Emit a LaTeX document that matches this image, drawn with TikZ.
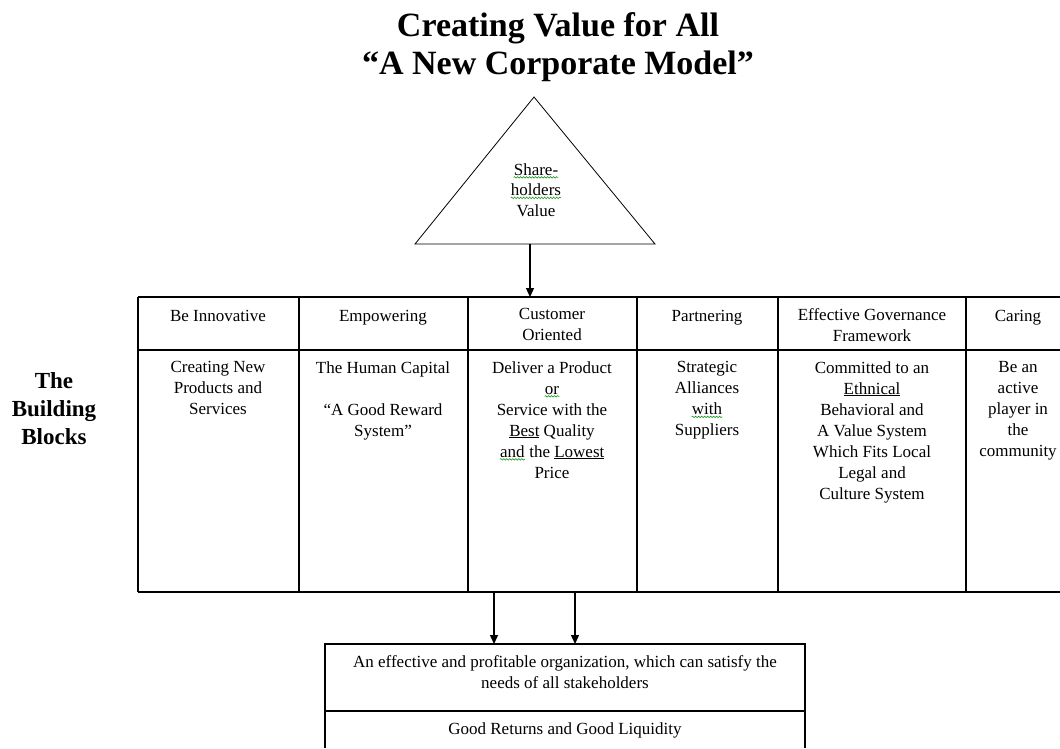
\documentclass[tikz,border=0pt]{standalone}
\usepackage{fontspec}
\setmainfont{Liberation Serif}
\usetikzlibrary{arrows.meta,decorations.pathmorphing}

% green wavy mark under a word
\newcommand{\spellmark}[1]{\tikz[baseline=(w.base)]{\node[inner sep=0pt] (w) {#1};
    \draw[green!55!black, line width=0.5pt, decorate, decoration={snake,amplitude=0.8pt,segment length=3pt}]
        ([yshift=-2pt]w.south west) -- ([yshift=-2pt]w.south east);}}

\begin{document}
\begin{tikzpicture}[x=1pt,y=-1pt,
    celltext/.style={anchor=north,align=center,inner sep=0pt,font=\fontsize{17}{21}\selectfont},
    grid/.style={line width=1.5pt},
    heavy/.style={line width=2.5pt},
    flow/.style={line width=1.3pt,-{Triangle[length=9pt,width=8pt]}}]

            \useasboundingbox (0,0) rectangle (1060,748);

            % Title
            \node[anchor=north,align=center,inner sep=0pt,font=\bfseries\fontsize{34}{38}\selectfont]
                (title) at (558,12) {Creating Value for All\\“A New Corporate Model”};

            % Triangle with the shareholders value
            \coordinate (apex) at (534,97);
            \coordinate (baseL) at (415,244);
            \coordinate (baseR) at (655,244);
            \draw[line width=0.8pt] (apex) -- (baseL) -- (baseR) -- cycle;
            \node[celltext,font=\fontsize{17}{20.5}\selectfont] (share) at (536,163)
                {\spellmark{Share-}\\\spellmark{holders}\\Value};

            % Table of building blocks
            \draw[grid] (138,297) -- (1060,297);
            \draw[grid] (138,350) -- (1060,350);
            \draw[heavy] (138,592) -- (1060,592);
            \foreach \x in {138,299,468,637,778,966}
                \draw[grid] (\x,297) -- (\x,592);
            \draw[heavy] (778,297) rectangle (966,350);

            % Arrow into the table
            \coordinate (tribot) at (530,244);
            \coordinate (tabtop) at (530,297);
            \draw[flow] (tribot) -- (tabtop);

            % Headers
            \node[celltext] (h1) at (218,310) {Be Innovative};
            \node[celltext] (h2) at (383,310) {Empowering};
            \node[celltext] (h3) at (552,308) {Customer\\Oriented};
            \node[celltext] (h4) at (707,310) {Partnering};
            \node[celltext] (h5) at (872,308) {Effective Governance\\Framework};
            \node[celltext] (h6) at (1018,310) {Caring};

            % Cell texts
            \node[celltext] (b1) at (218,361) {Creating New\\Products and\\Services};
            \node[celltext] (b2) at (383,361) {The Human Capital\\ \\“A Good Reward\\System”};
            \node[celltext] (b3) at (552,361) {Deliver a Product\\\spellmark{or}\\Service with the\\
                \underline{Best} Quality\\\spellmark{and} the \underline{Lowest}\\Price};
            \node[celltext] (b4) at (707,361) {Strategic\\Alliances\\\spellmark{with}\\Suppliers};
            \node[celltext] (b5) at (872,361) {Committed to an\\\underline{Ethnical}\\Behavioral and\\
                A Value System\\Which Fits Local\\Legal and\\Culture System};
            \node[celltext] (b6) at (1018,361) {Be an\\active\\player in\\the\\community};

            % Label the blocks
            \node[anchor=north,align=center,inner sep=0pt,font=\bfseries\fontsize{23}{28}\selectfont]
                (blocks) at (54,372) {The\\Building\\Blocks};

            % Result box
            \draw[grid] (325,748) -- (325,644) -- (805,644) -- (805,748);
            \draw[grid] (325,711) -- (805,711);
            \node[celltext] (goal) at (565,655)
                {An effective and profitable organization, which can satisfy the\\needs of all stakeholders};
            \node[celltext] (returns) at (565,722) {Good Returns and Good Liquidity};

            % Arrows into the result box
            \coordinate (outA) at (494,592);
            \coordinate (inA) at (494,644);
            \coordinate (outB) at (575,592);
            \coordinate (inB) at (575,644);
            \draw[flow] (outA) -- (inA);
            \draw[flow] (outB) -- (inB);
        \end{tikzpicture}
\end{document}
